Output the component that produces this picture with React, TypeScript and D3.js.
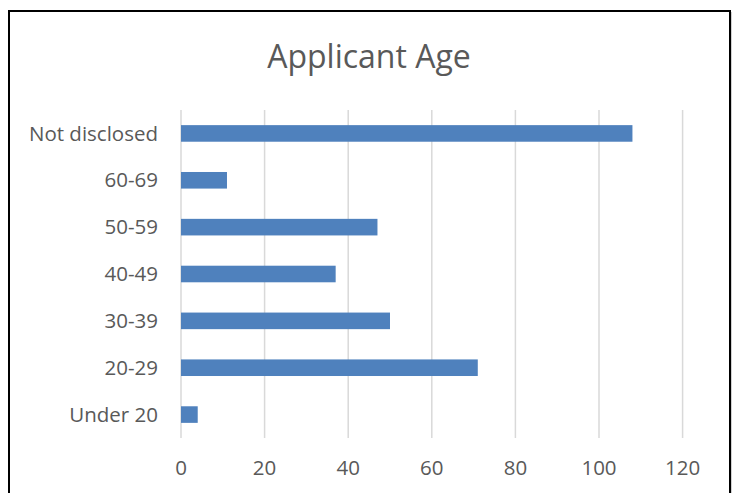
import React from "react";
import * as d3 from "d3";

const categories = ["Not disclosed", "60-69", "50-59", "40-49", "30-39", "20-29", "Under 20"];
const values = [108, 11, 47, 37, 50, 71, 4];
const xTicks = [0, 20, 40, 60, 80, 100, 120];
const title = "Applicant Age";

export default function App() {
  const W = 734, H = 493;
  const x = d3.scaleLinear().domain([0, 120]).range([181, 682.6]);
  const y = d3.scaleBand<string>().domain(categories).range([110, 438]).paddingInner(0.646).paddingOuter(0.323);
  const font = "'Open Sans', 'Noto Sans', sans-serif";
  const txt = "#595959";
  return (
    <svg width={W} height={H} style={{ position: "absolute", left: 0, top: 0, background: "#fff" }}>
      <rect x={0} y={0} width={W} height={H} fill="#fff" />
      <line x1={731.5} y1={12} x2={731.5} y2={H} stroke="#d0d0d0" strokeWidth={1} />
      <rect x={9} y={11} width={721} height={H + 10} fill="none" stroke="#000" strokeWidth={2} />
      <text x={369} y={68} textAnchor="middle" fontFamily={font} fontSize={32} fill={txt}>{title}</text>
      {xTicks.map((t) => (
        <line key={"g" + t} x1={x(t)} x2={x(t)} y1={110} y2={438} stroke="#d9d9d9" strokeWidth={1.5} />
      ))}
      {categories.map((c, i) => (
        <rect key={c} x={x(0)} y={y(c)!} width={x(values[i]) - x(0)} height={y.bandwidth()} fill="#4F81BD" />
      ))}
      {categories.map((c) => (
        <text key={"l" + c} x={158} y={y(c)! + y.bandwidth() / 2} dy="0.35em" textAnchor="end" fontFamily={font} fontSize={20.5} fill={txt}>{c}</text>
      ))}
      {xTicks.map((t) => (
        <text key={"t" + t} x={x(t)} y={468} dy="0.35em" textAnchor="middle" fontFamily={font} fontSize={20.5} fill={txt}>{t}</text>
      ))}
    </svg>
  );
}
